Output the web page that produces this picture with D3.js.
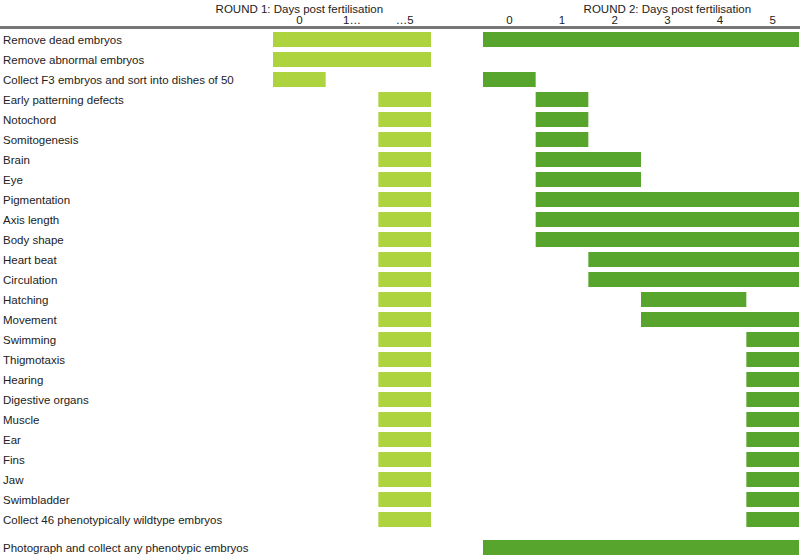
<!DOCTYPE html>
<html lang="en">
<head>
    <meta charset="UTF-8">
    <title>Screening timeline</title>
    <script src="https://d3js.org/d3.v7.min.js"></script>
    <style>
        body { margin: 0; background: #fff; }
        text { font-family: "Liberation Sans", Arial, sans-serif; font-size: 11.5px; fill: #222; }
        .rule { stroke: #777; stroke-width: 3px; }
    </style>
</head>
<body>
    <script>
        // Task names, top to bottom
        var tasks = [
            "Remove dead embryos", "Remove abnormal embryos", "Collect F3 embryos and sort into dishes of 50",
            "Early patterning defects", "Notochord", "Somitogenesis", "Brain", "Eye", "Pigmentation",
            "Axis length", "Body shape", "Heart beat", "Circulation", "Hatching", "Movement", "Swimming",
            "Thigmotaxis", "Hearing", "Digestive organs", "Muscle", "Ear", "Fins", "Jaw", "Swimbladder",
            "Collect 46 phenotypically wildtype embryos", "Photograph and collect any phenotypic embryos"
        ];

        // Round 1 axis slots and start/end slot per task (null = no bar)
        var round1Ticks = ["0", "1\u2026", "\u20265"];
        var round1Start = [0, 0, 0, 2, 2, 2, 2, 2, 2, 2, 2, 2, 2, 2, 2, 2, 2, 2, 2, 2, 2, 2, 2, 2, 2, null];
        var round1End   = [2, 2, 0, 2, 2, 2, 2, 2, 2, 2, 2, 2, 2, 2, 2, 2, 2, 2, 2, 2, 2, 2, 2, 2, 2, null];

        // Round 2 axis days and start/end day per task
        var round2Ticks = ["0", "1", "2", "3", "4", "5"];
        var round2Start = [0, null, 0, 1, 1, 1, 1, 1, 1, 1, 1, 2, 2, 3, 3, 5, 5, 5, 5, 5, 5, 5, 5, 5, 5, 0];
        var round2End   = [5, null, 0, 1, 1, 1, 2, 2, 5, 5, 5, 5, 5, 4, 5, 5, 5, 5, 5, 5, 5, 5, 5, 5, 5, 5];

        var W = 800, H = 555;
        var svg = d3.select("body").append("svg")
            .attr("width", W)
            .attr("height", H);

        var x1 = d3.scaleBand().domain(round1Ticks).range([273, 431]);
        var x2 = d3.scaleBand().domain(round2Ticks).range([483, 799]);

        var y = d3.scaleBand()
            .domain(d3.range(tasks.length))
            .range([29.5, 29.5 + tasks.length * 20])
            .paddingInner(0.25)
            .paddingOuter(0.125);

        // last row sits a little lower
        function rowY(i) {
            return y(i) + (i === tasks.length - 1 ? 8 : 0);
        }

        // titles
        svg.append("text")
            .attr("x", x1(round1Ticks[0]) + x1.bandwidth() / 2)
            .attr("y", 13)
            .attr("text-anchor", "middle")
            .text("ROUND 1: Days post fertilisation");
        svg.append("text")
            .attr("x", x2("3") + x2.bandwidth() / 2)
            .attr("y", 13)
            .attr("text-anchor", "middle")
            .text("ROUND 2: Days post fertilisation");

        // tick labels
        svg.selectAll(".t1")
            .data(round1Ticks)
            .enter().append("text")
            .attr("x", function(d) { return x1(d) + x1.bandwidth() / 2; })
            .attr("y", 24)
            .attr("text-anchor", "middle")
            .text(function(d) { return d; });
        svg.selectAll(".t2")
            .data(round2Ticks)
            .enter().append("text")
            .attr("x", function(d) { return x2(d) + x2.bandwidth() / 2; })
            .attr("y", 24)
            .attr("text-anchor", "middle")
            .text(function(d) { return d; });

        svg.append("line")
            .attr("class", "rule")
            .attr("x1", 0).attr("x2", W)
            .attr("y1", 27.5).attr("y2", 27.5);

        // row labels
        svg.selectAll(".label")
            .data(tasks)
            .enter().append("text")
            .attr("x", 3)
            .attr("y", function(d, i) { return rowY(i) + y.bandwidth() / 2 + 4; })
            .text(function(d) { return d; });

        // round 1 bars
        svg.selectAll(".b1")
            .data(d3.range(tasks.length).filter(function(i) { return round1Start[i] !== null; }))
            .enter().append("rect")
            .attr("x", function(i) { return x1(round1Ticks[round1Start[i]]); })
            .attr("width", function(i) { return x1(round1Ticks[round1End[i]]) + x1.bandwidth() - x1(round1Ticks[round1Start[i]]); })
            .attr("y", function(i) { return rowY(i); })
            .attr("height", y.bandwidth())
            .attr("fill", "#add33f");

        // round 2 bars
        svg.selectAll(".b2")
            .data(d3.range(tasks.length).filter(function(i) { return round2Start[i] !== null; }))
            .enter().append("rect")
            .attr("x", function(i) { return x2(round2Ticks[round2Start[i]]); })
            .attr("width", function(i) { return x2(round2Ticks[round2End[i]]) + x2.bandwidth() - x2(round2Ticks[round2Start[i]]); })
            .attr("y", function(i) { return rowY(i); })
            .attr("height", y.bandwidth())
            .attr("fill", "#58a52e");
    </script>
</body>
</html>
